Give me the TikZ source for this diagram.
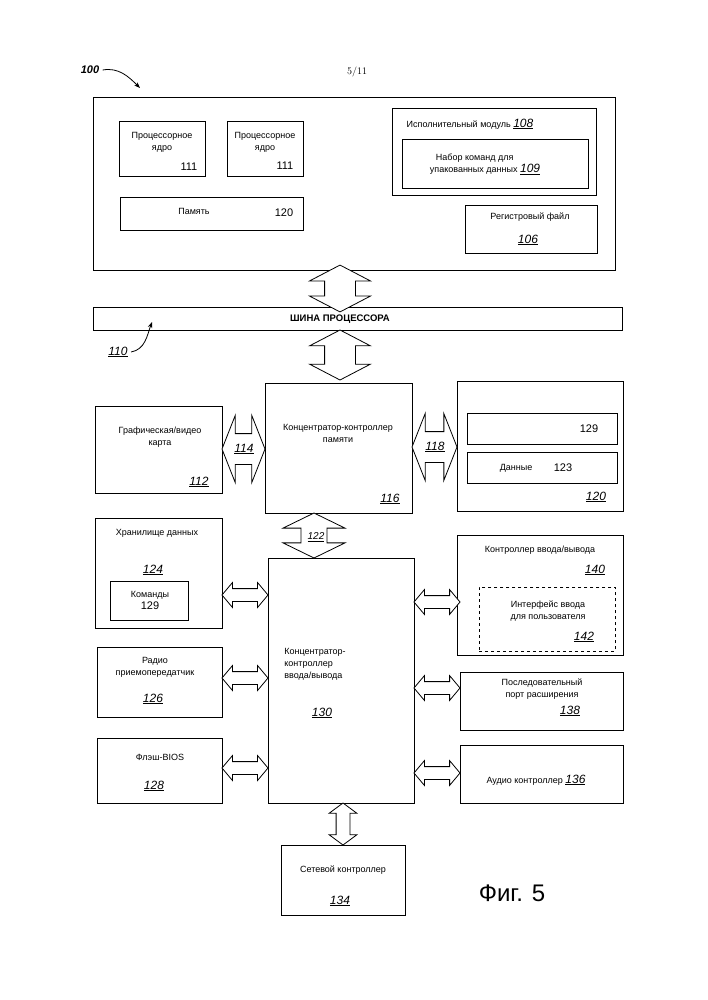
\documentclass[tikz,border=0pt]{standalone}
\usepackage{fontspec}
\setmainfont{Liberation Sans}
\usetikzlibrary{arrows.meta}
\usetikzlibrary{shapes.arrows}

\newcommand{\refno}[1]{\underline{\textit{\fontsize{12}{14}\selectfont #1}}}

\tikzset{
	box/.style={draw=black, thick, anchor=north west, inner sep=0pt},
	txt/.style={align=center, font=\fontsize{9}{12}\selectfont, inner sep=0pt},
	num/.style={font=\fontsize{11}{13}\selectfont, inner sep=0pt},
	dbl/.style={draw=black, thick, fill=white, double arrow, inner sep=0pt, minimum size=0pt}
}

\begin{document}
\begin{tikzpicture}[x=1pt, y=-1pt]

	\useasboundingbox (0,0) rectangle (707,1000);

	% header
	\node[font=\itshape\bfseries\fontsize{11}{13}\selectfont] (fig) at (90,70) {100};
	\coordinate (figtip) at (140,88);
	\draw[thick, -{Stealth[length=6pt]}] (fig.east) to[out=10, in=135] (figtip);
	\node[font=\fontfamily{lmr}\selectfont\fontsize{10}{12}\selectfont] (page) at (357,72) {5/11};

	% processor
	\node[box, minimum width=522, minimum height=173] (cpu) at (93,97) {};
	\node[box, minimum width=86, minimum height=55] (core1) at (119,121) {};
	\node[txt] (core1t) at (162,142) {Процессорное\\ядро};
	\node[num] (core1n) at (189,167) {111};
	\node[box, minimum width=76, minimum height=55] (core2) at (227,121) {};
	\node[txt] (core2t) at (265,142) {Процессорное\\ядро};
	\node[num] (core2n) at (285,166) {111};
	\node[box, minimum width=183, minimum height=33] (cache) at (120,197) {};
	\node[txt] (cachet) at (194,211) {Память};
	\node[num] (cachen) at (284,213) {120};
	\node[box, minimum width=204, minimum height=87] (exec) at (392,108) {};
	\node[txt] (exect) at (470,124) {Исполнительный модуль \refno{108}};
	\node[box, minimum width=186, minimum height=49] (pack) at (402,139) {};
	\node[txt, align=left] (packt) at (485,164) {\hspace*{6pt}Набор команд для\\упакованных данных \refno{109}};
	\node[box, minimum width=132, minimum height=48] (reg) at (465,205) {};
	\node[txt] (regt) at (530,217) {Регистровый файл};
	\node[txt] (regn) at (528,240) {\refno{106}};

	% bus
	\node[box, minimum width=529, minimum height=23] (bus) at (93,307) {};
	\node[font=\bfseries\fontsize{9.5}{11}\selectfont] (bust) at (340,319) {ШИНА ПРОЦЕССОРА};
	\node (busn) at (118,352) {\refno{110}};
	\coordinate (bustip) at (152,322);
	\draw[thick, -{Stealth[length=6pt]}] (busn.east) to[out=10, in=-110] (bustip);

	% memory side
	\node[box, minimum width=147, minimum height=130] (mch) at (265,383) {};
	\node[txt] (mcht) at (338,433) {Концентратор-контроллер\\памяти};
	\node (mchn) at (390,499) {\refno{116}};
	\node[box, minimum width=127, minimum height=87] (gfx) at (95,406) {};
	\node[txt] (gfxt) at (160,437) {Графическая/видео\\карта};
	\node (gfxn) at (199,482) {\refno{112}};
	\node[box, minimum width=166, minimum height=130] (mem) at (457,381) {};
	\node[box, minimum width=150, minimum height=31] (ins) at (467,413) {};
	\node[num] (inst) at (589,429) {129};
	\node[box, minimum width=150, minimum height=31] (dat) at (467,452) {};
	\node[txt] (datt) at (516,468) {Данные};
	\node[num] (datn) at (563,468) {123};
	\node (memn) at (596,497) {\refno{120}};

	% io hub
	\node[box, minimum width=146, minimum height=245] (ich) at (268,558) {};
	\node[txt, align=left] (icht) at (315,664) {Концентратор-\\контроллер\\ввода/вывода};
	\node (ichn) at (322,713) {\refno{130}};
	\node[box, minimum width=127, minimum height=110] (store) at (95,518) {};
	\node[txt] (storet) at (157,533) {Хранилище данных};
	\node (storen) at (153,570) {\refno{124}};
	\node[box, minimum width=78, minimum height=39] (cmds) at (110,581) {};
	\node[txt] (cmdst) at (150,600) {Команды\\{\fontsize{11}{13}\selectfont 129}};
	\node[box, minimum width=125, minimum height=70] (radio) at (97,647) {};
	\node[txt] (radiot) at (155,667) {Радио\\приемопередатчик};
	\node (radion) at (153,699) {\refno{126}};
	\node[box, minimum width=125, minimum height=65] (flash) at (97,738) {};
	\node[txt] (flasht) at (160,757) {Флэш-BIOS};
	\node (flashn) at (154,786) {\refno{128}};
	\node[box, minimum width=166, minimum height=120] (ioc) at (457,535) {};
	\node[txt] (ioct) at (540,550) {Контроллер ввода/вывода};
	\node (iocn) at (595,570) {\refno{140}};
	\node[box, dashed, minimum width=136, minimum height=64] (ui) at (479,587) {};
	\node[txt] (uit) at (548,611) {Интерфейс ввода\\для пользователя};
	\node (uin) at (584,637) {\refno{142}};
	\node[box, minimum width=163, minimum height=58] (ser) at (460,672) {};
	\node[txt] (sert) at (542,689) {Последовательный\\порт расширения};
	\node (sern) at (570,711) {\refno{138}};
	\node[box, minimum width=163, minimum height=58] (aud) at (460,745) {};
	\node[txt] (audt) at (536,780) {Аудио контроллер \refno{136}};
	\node[box, minimum width=124, minimum height=70] (net) at (281,845) {};
	\node[txt] (nett) at (343,870) {Сетевой контроллер};
	\node (netn) at (340,901) {\refno{134}};

	\node[font=\fontsize{24}{28}\selectfont] (caption) at (512,893) {Фиг. 5};

	% double arrows
	\node[dbl, minimum height=37, minimum width=60, double arrow head extend=15pt, double arrow tip angle=125, shape border rotate=90, inner sep=15pt] (a1) at (340,288.5) {};
	\node[dbl, minimum height=50, minimum width=60, double arrow head extend=15pt, double arrow tip angle=125, shape border rotate=90, inner sep=15pt] (a2) at (340,355) {};
	\node[dbl, minimum height=43, minimum width=66, double arrow head extend=18pt, double arrow tip angle=137, inner sep=15pt] (a114) at (243.5,449) {};
	\node (a114n) at (244,449) {\refno{114}};
	\node[dbl, minimum height=45, minimum width=66, double arrow head extend=18pt, double arrow tip angle=137, inner sep=15pt] (a118) at (434.5,447) {};
	\node (a118n) at (435,447) {\refno{118}};
	\node[dbl, minimum height=45, minimum width=62, double arrow head extend=18pt, double arrow tip angle=128, shape border rotate=90, inner sep=12.5pt] (a122) at (314,535.5) {};
	\node (a122n) at (316,537) {\textit{\underline{\fontsize{10}{12}\selectfont 122}}};
	\foreach \y/\n in {595/st, 678/ra, 768/fl} {
		\node[dbl, minimum height=46, minimum width=24, double arrow head extend=6pt, double arrow tip angle=100, inner sep=6pt] (l\n) at (245,\y) {};
	}
	\foreach \y/\n in {602/io, 688/se, 773/au} {
		\node[dbl, minimum height=46, minimum width=24, double arrow head extend=6pt, double arrow tip angle=100, inner sep=6pt] (r\n) at (437,\y) {};
	}
	\node[dbl, minimum height=42, minimum width=27, double arrow head extend=7pt, double arrow tip angle=107, shape border rotate=90, inner sep=6.5pt] (anet) at (343,824) {};

\end{tikzpicture}
\end{document}
